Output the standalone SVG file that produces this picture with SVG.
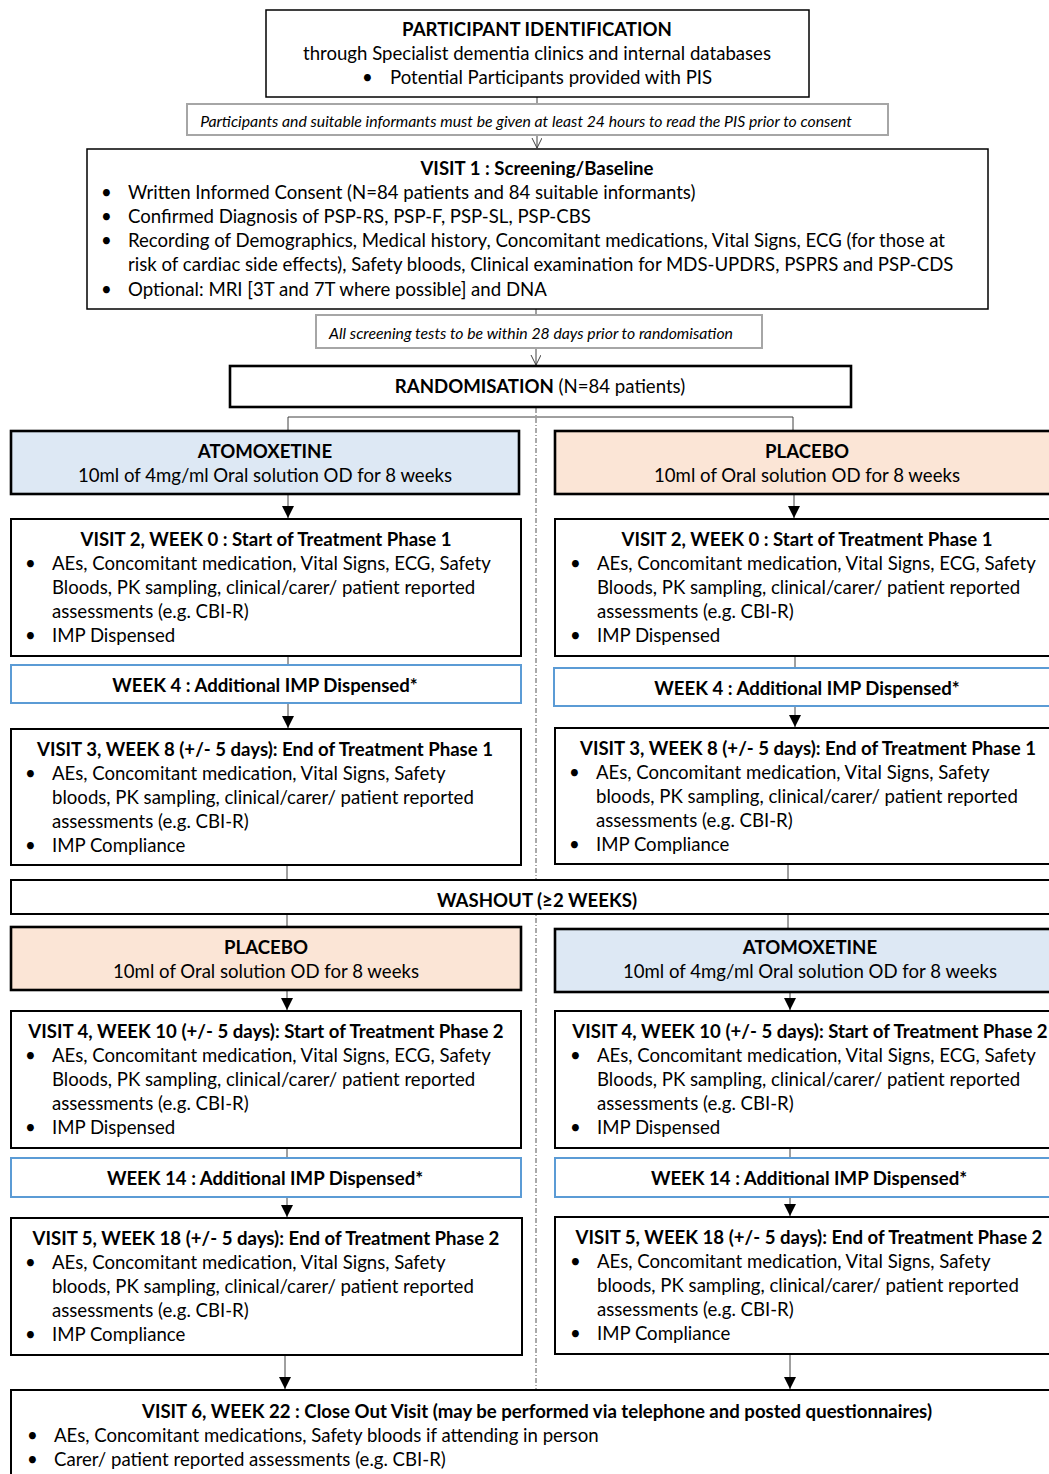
<svg xmlns="http://www.w3.org/2000/svg" width="1049" height="1474" viewBox="0 0 1049 1474">
<style>
.bx{fill:#fff;stroke:#000;stroke-width:2}
.thin{stroke-width:1.5}
.thk{stroke-width:2.6}
.note{fill:#fff;stroke:#a6a6a6;stroke-width:2}
.wk{fill:#fff;stroke:#5b9bd5;stroke-width:2}
.blue{fill:#dde8f4}
.peach{fill:#fbe5d6}
text{font-family:Lato,"Liberation Sans",sans-serif;font-size:18.6px;fill:#000;transform:translate(0px,1px)}
.b{font-weight:bold}
.c{text-anchor:middle}
.i{font-style:italic;font-size:15.8px}
.ln{stroke:#404040;stroke-width:1;fill:none}
.dash{stroke:#555;stroke-width:1;stroke-dasharray:5 2 1 2;fill:none}
</style>
<defs>
<marker id="tri" markerWidth="14" markerHeight="14" refX="12" refY="6" orient="auto" markerUnits="userSpaceOnUse">
<path d="M0,0 L12,6 L0,12 Z" fill="#000"/>
</marker>
<marker id="vee" markerWidth="12" markerHeight="12" refX="10" refY="5" orient="auto" markerUnits="userSpaceOnUse">
<path d="M0,0 L10,5 L0,10" fill="none" stroke="#404040" stroke-width="1"/>
</marker>
</defs>

<g id="connectors">
<line class="ln" x1="537" y1="97" x2="537" y2="148" marker-end="url(#vee)"/>
<line class="ln" x1="536" y1="309" x2="536" y2="365" marker-end="url(#vee)"/>
<line class="dash" x1="536" y1="408" x2="536" y2="1389"/>
<polyline class="ln" points="288,431 288,417 793,417 793,431"/>
<line class="ln" x1="288" y1="494" x2="288" y2="518" marker-end="url(#tri)"/>
<line class="ln" x1="794" y1="494" x2="794" y2="518" marker-end="url(#tri)"/>
<line class="ln" x1="288" y1="656" x2="288" y2="665"/>
<line class="ln" x1="795" y1="656" x2="795" y2="668"/>
<line class="ln" x1="288" y1="703" x2="288" y2="728" marker-end="url(#tri)"/>
<line class="ln" x1="795" y1="706" x2="795" y2="727" marker-end="url(#tri)"/>
<line class="ln" x1="287" y1="865" x2="287" y2="880"/>
<line class="ln" x1="788" y1="864" x2="788" y2="880"/>
<line class="ln" x1="287" y1="914" x2="287" y2="927"/>
<line class="ln" x1="788" y1="914" x2="788" y2="929"/>
<line class="ln" x1="287" y1="990" x2="287" y2="1010" marker-end="url(#tri)"/>
<line class="ln" x1="790" y1="992" x2="790" y2="1010" marker-end="url(#tri)"/>
<line class="ln" x1="287" y1="1148" x2="287" y2="1158"/>
<line class="ln" x1="790" y1="1148" x2="790" y2="1158"/>
<line class="ln" x1="287" y1="1197" x2="287" y2="1217" marker-end="url(#tri)"/>
<line class="ln" x1="790" y1="1197" x2="790" y2="1216" marker-end="url(#tri)"/>
<line class="ln" x1="285" y1="1355" x2="285" y2="1389" marker-end="url(#tri)"/>
<line class="ln" x1="790" y1="1354" x2="790" y2="1389" marker-end="url(#tri)"/>
</g>

<g id="participant-identification">
<rect class="bx thin" x="266" y="10" width="543" height="87"/>
<text class="b c" x="537" y="35">PARTICIPANT IDENTIFICATION</text>
<text class="c" x="537" y="59">through Specialist dementia clinics and internal databases</text>
<text x="362" y="83">•</text>
<text x="390" y="83">Potential Participants provided with PIS</text>
</g>

<g id="note-pis">
<rect class="note" x="187" y="104" width="701" height="31"/>
<text class="i c" x="526" y="126">Participants and suitable informants must be given at least 24 hours to read the PIS prior to consent</text>
</g>

<g id="visit1">
<rect class="bx thin" x="87" y="149" width="901" height="160"/>
<text class="b c" x="537" y="174">VISIT 1 : Screening/Baseline</text>
<text x="101" y="198">•</text><text x="128" y="198">Written Informed Consent (N=84 patients and 84 suitable informants)</text>
<text x="101" y="222">•</text><text x="128" y="222">Confirmed Diagnosis of PSP-RS, PSP-F, PSP-SL, PSP-CBS</text>
<text x="101" y="246">•</text><text x="128" y="246">Recording of Demographics, Medical history, Concomitant medications, Vital Signs, ECG (for those at</text>
<text x="128" y="270">risk of cardiac side effects), Safety bloods, Clinical examination for MDS-UPDRS, PSPRS and PSP-CDS</text>
<text x="101" y="295">•</text><text x="128" y="295">Optional: MRI [3T and 7T where possible] and DNA</text>
</g>

<g id="note-screening">
<rect class="note" x="316" y="315" width="446" height="33"/>
<text class="i c" x="531" y="338">All screening tests to be within 28 days prior to randomisation</text>
</g>

<g id="randomisation">
<rect class="bx thk" x="230" y="366" width="621" height="41"/>
<text class="c" x="540" y="392"><tspan class="b">RANDOMISATION</tspan> (N=84 patients)</text>
</g>

<g id="atomoxetine-1">
<rect class="bx thk blue" x="11" y="431" width="508" height="63"/>
<text class="b c" x="265" y="457">ATOMOXETINE</text>
<text class="c" x="265" y="481">10ml of 4mg/ml Oral solution OD for 8 weeks</text>
</g>

<g id="placebo-1">
<rect class="bx thk peach" x="555" y="431" width="510" height="63"/>
<text class="b c" x="807" y="457">PLACEBO</text>
<text class="c" x="807" y="481">10ml of Oral solution OD for 8 weeks</text>
</g>

<g id="visit2-left">
<rect class="bx" x="11" y="519" width="510" height="137"/>
<text class="b c" x="266" y="545">VISIT 2, WEEK 0 : Start of Treatment Phase 1</text>
<text x="25" y="569">•</text><text x="52" y="569">AEs, Concomitant medication, Vital Signs, ECG, Safety</text>
<text x="52" y="593">Bloods, PK sampling, clinical/carer/ patient reported</text>
<text x="52" y="617">assessments (e.g. CBI-R)</text>
<text x="25" y="641">•</text><text x="52" y="641">IMP Dispensed</text>
</g>

<g id="visit2-right">
<rect class="bx" x="555" y="519" width="510" height="137"/>
<text class="b c" x="807" y="545">VISIT 2, WEEK 0 : Start of Treatment Phase 1</text>
<text x="570" y="569">•</text><text x="597" y="569">AEs, Concomitant medication, Vital Signs, ECG, Safety</text>
<text x="597" y="593">Bloods, PK sampling, clinical/carer/ patient reported</text>
<text x="597" y="617">assessments (e.g. CBI-R)</text>
<text x="570" y="641">•</text><text x="597" y="641">IMP Dispensed</text>
</g>

<g id="week4-left">
<rect class="wk" x="11" y="665" width="510" height="38"/>
<text class="b c" x="265" y="691">WEEK 4 : Additional IMP Dispensed*</text>
</g>

<g id="week4-right">
<rect class="wk" x="554" y="668" width="511" height="38"/>
<text class="b c" x="807" y="694">WEEK 4 : Additional IMP Dispensed*</text>
</g>

<g id="visit3-left">
<rect class="bx" x="11" y="729" width="510" height="136"/>
<text class="b c" x="265" y="755">VISIT 3, WEEK 8 (+/- 5 days): End of Treatment Phase 1</text>
<text x="25" y="779">•</text><text x="52" y="779">AEs, Concomitant medication, Vital Signs, Safety</text>
<text x="52" y="803">bloods, PK sampling, clinical/carer/ patient reported</text>
<text x="52" y="827">assessments (e.g. CBI-R)</text>
<text x="25" y="851">•</text><text x="52" y="851">IMP Compliance</text>
</g>

<g id="visit3-right">
<rect class="bx" x="555" y="728" width="510" height="136"/>
<text class="b c" x="808" y="754">VISIT 3, WEEK 8 (+/- 5 days): End of Treatment Phase 1</text>
<text x="569" y="778">•</text><text x="596" y="778">AEs, Concomitant medication, Vital Signs, Safety</text>
<text x="596" y="802">bloods, PK sampling, clinical/carer/ patient reported</text>
<text x="596" y="826">assessments (e.g. CBI-R)</text>
<text x="569" y="850">•</text><text x="596" y="850">IMP Compliance</text>
</g>

<g id="washout">
<rect class="bx" x="11" y="880" width="1054" height="34"/>
<text class="b c" x="537" y="906">WASHOUT (≥2 WEEKS)</text>
</g>

<g id="placebo-2">
<rect class="bx thk peach" x="11" y="927" width="510" height="63"/>
<text class="b c" x="266" y="953">PLACEBO</text>
<text class="c" x="266" y="977">10ml of Oral solution OD for 8 weeks</text>
</g>

<g id="atomoxetine-2">
<rect class="bx thk blue" x="555" y="929" width="510" height="63"/>
<text class="b c" x="810" y="953">ATOMOXETINE</text>
<text class="c" x="810" y="977">10ml of 4mg/ml Oral solution OD for 8 weeks</text>
</g>

<g id="visit4-left">
<rect class="bx" x="11" y="1011" width="510" height="137"/>
<text class="b c" x="266" y="1037">VISIT 4, WEEK 10 (+/- 5 days): Start of Treatment Phase 2</text>
<text x="25" y="1061">•</text><text x="52" y="1061">AEs, Concomitant medication, Vital Signs, ECG, Safety</text>
<text x="52" y="1085">Bloods, PK sampling, clinical/carer/ patient reported</text>
<text x="52" y="1109">assessments (e.g. CBI-R)</text>
<text x="25" y="1133">•</text><text x="52" y="1133">IMP Dispensed</text>
</g>

<g id="visit4-right">
<rect class="bx" x="555" y="1011" width="510" height="137"/>
<text class="b c" x="810" y="1037">VISIT 4, WEEK 10 (+/- 5 days): Start of Treatment Phase 2</text>
<text x="570" y="1061">•</text><text x="597" y="1061">AEs, Concomitant medication, Vital Signs, ECG, Safety</text>
<text x="597" y="1085">Bloods, PK sampling, clinical/carer/ patient reported</text>
<text x="597" y="1109">assessments (e.g. CBI-R)</text>
<text x="570" y="1133">•</text><text x="597" y="1133">IMP Dispensed</text>
</g>

<g id="week14-left">
<rect class="wk" x="11" y="1158" width="510" height="39"/>
<text class="b c" x="265" y="1184">WEEK 14 : Additional IMP Dispensed*</text>
</g>

<g id="week14-right">
<rect class="wk" x="555" y="1158" width="510" height="39"/>
<text class="b c" x="809" y="1184">WEEK 14 : Additional IMP Dispensed*</text>
</g>

<g id="visit5-left">
<rect class="bx" x="11" y="1218" width="511" height="137"/>
<text class="b c" x="266" y="1244">VISIT 5, WEEK 18 (+/- 5 days): End of Treatment Phase 2</text>
<text x="25" y="1268">•</text><text x="52" y="1268">AEs, Concomitant medication, Vital Signs, Safety</text>
<text x="52" y="1292">bloods, PK sampling, clinical/carer/ patient reported</text>
<text x="52" y="1316">assessments (e.g. CBI-R)</text>
<text x="25" y="1340">•</text><text x="52" y="1340">IMP Compliance</text>
</g>

<g id="visit5-right">
<rect class="bx" x="555" y="1217" width="510" height="137"/>
<text class="b c" x="809" y="1243">VISIT 5, WEEK 18 (+/- 5 days): End of Treatment Phase 2</text>
<text x="570" y="1267">•</text><text x="597" y="1267">AEs, Concomitant medication, Vital Signs, Safety</text>
<text x="597" y="1291">bloods, PK sampling, clinical/carer/ patient reported</text>
<text x="597" y="1315">assessments (e.g. CBI-R)</text>
<text x="570" y="1339">•</text><text x="597" y="1339">IMP Compliance</text>
</g>

<g id="visit6">
<rect class="bx" x="11" y="1390" width="1054" height="95"/>
<text class="b c" x="537" y="1417">VISIT 6, WEEK 22 : Close Out Visit (may be performed via telephone and posted questionnaires)</text>
<text x="27" y="1441">•</text><text x="54" y="1441">AEs, Concomitant medications, Safety bloods if attending in person</text>
<text x="27" y="1465">•</text><text x="54" y="1465">Carer/ patient reported assessments (e.g. CBI-R)</text>
</g>
</svg>
